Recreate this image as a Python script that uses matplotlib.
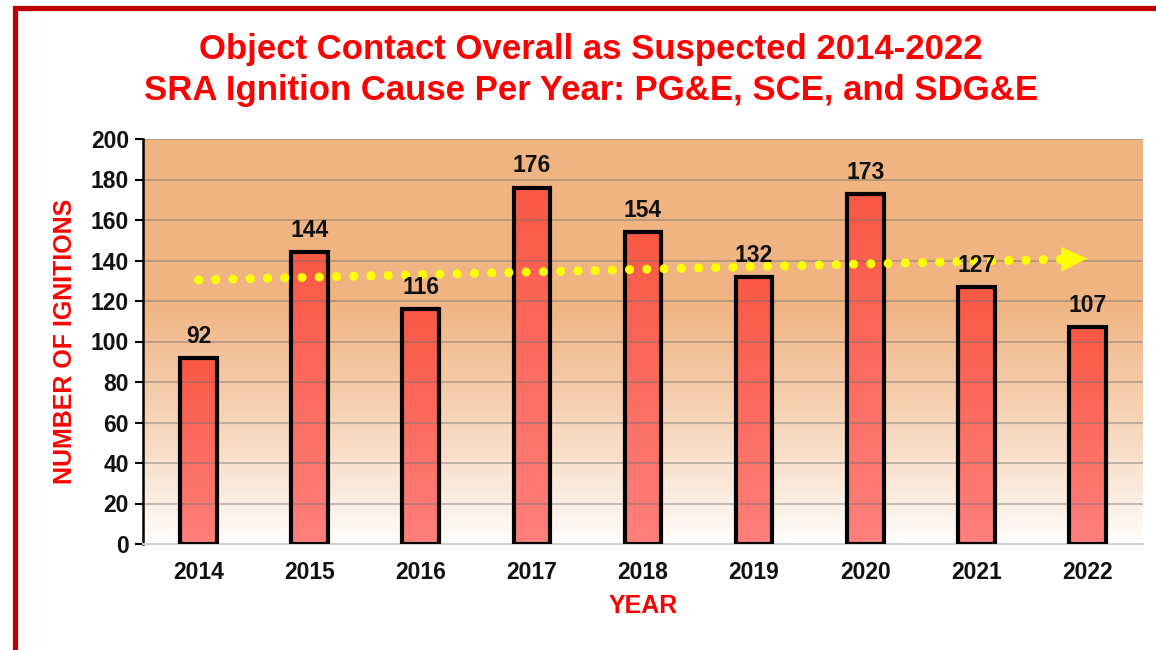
import numpy as np
import matplotlib
matplotlib.use("Agg")
import matplotlib.pyplot as plt
from matplotlib.lines import Line2D

plt.rcParams['font.family'] = ['Liberation Sans', 'DejaVu Sans']

# Datos
anios = ["2014", "2015", "2016", "2017", "2018", "2019", "2020", "2021", "2022"]
igniciones = [92, 144, 116, 176, 154, 132, 173, 127, 107]
y_ticks = [0, 20, 40, 60, 80, 100, 120, 140, 160, 180, 200]

titulo = "Object Contact Overall as Suspected 2014-2022\nSRA Ignition Cause Per Year: PG&E, SCE, and SDG&E"

W, H = 1156, 650
fig = plt.figure(figsize=(W / 100, H / 100), dpi=100)
fig.patch.set_facecolor("white")

ax = fig.add_axes([143 / W, 1 - 544 / H, 1000 / W, 405 / H])
x = np.arange(len(anios))
ax.set_xlim(-0.5, len(anios) - 0.5)
ax.set_ylim(0, 200)

# Fondo degradado (naranja arriba, blanco abajo)
t = np.linspace(0, 1, 256)[:, None]
naranja = np.array([240, 180, 130]) / 255
blanco = np.array([1.0, 1.0, 1.0])
k = np.clip(t / 0.6, 0, 1) ** 0.85
fondo = blanco + (naranja - blanco) * k[..., None]
fondo = np.repeat(fondo, 2, axis=1)
ax.imshow(fondo, extent=(-0.5, len(anios) - 0.5, 0, 200), origin="lower",
          aspect="auto", zorder=0, interpolation="bilinear")

# Barras con degradado
ancho = 0.33
barras = ax.bar(x, igniciones, width=ancho, facecolor="none", edgecolor="black",
                linewidth=3.0, zorder=4)
arriba = np.array([249, 88, 68]) / 255
abajo = np.array([255, 128, 124]) / 255
grad = abajo + (arriba - abajo) * np.linspace(0, 1, 256)[:, None]
grad = np.repeat(grad[:, None, :], 2, axis=1)
for b in barras:
    im = ax.imshow(grad, extent=(b.get_x(), b.get_x() + b.get_width(), 0, b.get_height()),
                   origin="lower", aspect="auto", zorder=1, interpolation="bilinear")
    im.set_clip_path(b)

# Lineas de cuadricula
for v in y_ticks[1:]:
    ax.axhline(v, color="#6e6e6e", alpha=0.45, linewidth=1.3, zorder=2)

# Etiquetas de valores
for xi, v in zip(x, igniciones):
    ax.text(xi, v + 5, str(v), ha="center", va="bottom", fontsize=16.5,
            fontweight="bold", color="#111111", zorder=6)

# Linea de tendencia
m, c = np.polyfit(x, igniciones, 1)
xt = np.array([0, len(anios) - 1.2])
ax.plot(xt, m * xt + c, color="#FFFF00", linewidth=6.5, linestyle=(0, (0.01, 1.9)),
        dash_capstyle="round", zorder=5)
x_fin = len(anios) - 1
ax.annotate("", xy=(x_fin, m * x_fin + c), xytext=(x_fin - 0.25, m * (x_fin - 0.25) + c),
            arrowprops=dict(arrowstyle="-|>,head_length=0.9,head_width=0.42",
                            color="#FFFF00", lw=0.5, mutation_scale=20,
                            shrinkA=0, shrinkB=0), zorder=5)

# Ejes
ax.set_xticks(x)
ax.set_xticklabels(anios, fontsize=16.5, fontweight="bold", color="#111111")
ax.set_yticks(y_ticks)
ax.set_yticklabels([str(v) for v in y_ticks], fontsize=16.5, fontweight="bold", color="#111111")
ax.tick_params(axis="x", length=0, pad=12)
ax.tick_params(axis="y", length=6, width=1.5, direction="out", pad=4)
for s in ["top", "right"]:
    ax.spines[s].set_visible(False)
ax.spines["left"].set_linewidth(1.8)
ax.spines["left"].set_color("black")
ax.spines["bottom"].set_color("#d0d0d0")
ax.spines["bottom"].set_linewidth(1.5)

ax.set_ylabel("NUMBER OF IGNITIONS", fontsize=18, fontweight="bold", color="#FF0000")
ax.yaxis.set_label_coords(-66 / 1000, 0.5)
fig.text(643 / W, 1 - 606 / H, "YEAR", ha="center", va="center", fontsize=18,
         fontweight="bold", color="#FF0000")

fig.text(591 / W, 1 - 70 / H, titulo, ha="center", va="center", fontsize=25,
         fontweight="bold", color="#FF0000", linespacing=1.32)

# Marco rojo
fig.add_artist(Line2D([15 / W, 15 / W, 1.0], [0.0, 1 - 7.5 / H, 1 - 7.5 / H],
                      transform=fig.transFigure, color="#C00000", linewidth=3.8,
                      solid_joinstyle="miter"))

fig.savefig("out.png", dpi=100)
